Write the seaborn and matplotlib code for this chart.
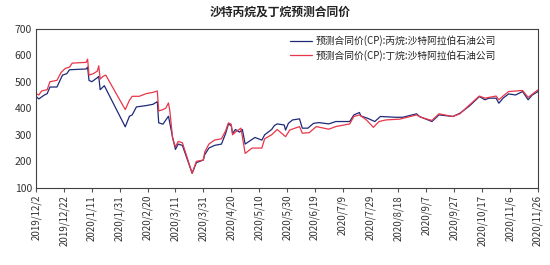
import matplotlib
matplotlib.use("Agg")
import matplotlib.pyplot as plt
import matplotlib.dates as mdates
import seaborn as sns
import pandas as pd

title = "沙特丙烷及丁烷预测合同价"
label_propane = "预测合同价(CP):丙烷:沙特阿拉伯石油公司"
label_butane = "预测合同价(CP):丁烷:沙特阿拉伯石油公司"

propane_dates = [
    "2019-12-02", "2019-12-04", "2019-12-08", "2019-12-10", "2019-12-12", "2019-12-17",
    "2019-12-21", "2019-12-24", "2019-12-26", "2020-01-07", "2020-01-08", "2020-01-09",
    "2020-01-11", "2020-01-15", "2020-01-16", "2020-01-17", "2020-01-20", "2020-02-04",
    "2020-02-07", "2020-02-09", "2020-02-12", "2020-02-19", "2020-02-24", "2020-02-27",
    "2020-02-28", "2020-03-02", "2020-03-04", "2020-03-06", "2020-03-09", "2020-03-11",
    "2020-03-13", "2020-03-16", "2020-03-23", "2020-03-26", "2020-03-31", "2020-04-01",
    "2020-04-04", "2020-04-08", "2020-04-13", "2020-04-16", "2020-04-18", "2020-04-20",
    "2020-04-21", "2020-04-23", "2020-04-26", "2020-04-28", "2020-04-30", "2020-05-07",
    "2020-05-12", "2020-05-14", "2020-05-19", "2020-05-21", "2020-05-23", "2020-05-28",
    "2020-05-29", "2020-05-31", "2020-06-03", "2020-06-08", "2020-06-10", "2020-06-14",
    "2020-06-18", "2020-06-22", "2020-06-29", "2020-07-04", "2020-07-14", "2020-07-17",
    "2020-07-21", "2020-07-22", "2020-07-27", "2020-08-01", "2020-08-05", "2020-08-16",
    "2020-08-21", "2020-08-31", "2020-09-02", "2020-09-11", "2020-09-16", "2020-09-26",
    "2020-10-01", "2020-10-08", "2020-10-15", "2020-10-19", "2020-10-22", "2020-10-27",
    "2020-10-29", "2020-11-01", "2020-11-05", "2020-11-10", "2020-11-15", "2020-11-19",
    "2020-11-22", "2020-11-26",
]
propane_values = [
    445, 435, 450, 455, 480, 480,
    525, 530, 545, 548, 555, 505,
    500, 515, 520, 470, 485, 330,
    370, 375, 405, 410, 415, 425,
    345, 340, 355, 370, 290, 245,
    265, 260, 155, 195, 205, 225,
    250, 260, 265, 305, 340, 335,
    305, 320, 310, 320, 265, 290,
    280, 300, 320, 335, 341, 337,
    318, 343, 356, 360, 325, 325,
    343, 346, 341, 350, 350, 375,
    384, 371, 362, 350, 369, 366,
    366, 379, 369, 350, 375, 369,
    381, 409, 444, 432, 438, 438,
    419, 438, 454, 450, 463, 432,
    450, 463,
]

butane_dates = [
    "2019-12-02", "2019-12-04", "2019-12-06", "2019-12-10", "2019-12-12", "2019-12-17",
    "2019-12-20", "2019-12-23", "2019-12-26", "2019-12-28", "2020-01-07", "2020-01-08",
    "2020-01-09", "2020-01-12", "2020-01-15", "2020-01-16", "2020-01-17", "2020-01-19",
    "2020-01-21", "2020-02-04", "2020-02-07", "2020-02-09", "2020-02-14", "2020-02-19",
    "2020-02-24", "2020-02-27", "2020-02-28", "2020-03-02", "2020-03-04", "2020-03-06",
    "2020-03-07", "2020-03-09", "2020-03-11", "2020-03-13", "2020-03-16", "2020-03-23",
    "2020-03-26", "2020-03-31", "2020-04-01", "2020-04-04", "2020-04-08", "2020-04-13",
    "2020-04-16", "2020-04-18", "2020-04-20", "2020-04-21", "2020-04-23", "2020-04-27",
    "2020-04-30", "2020-05-05", "2020-05-12", "2020-05-14", "2020-05-19", "2020-05-23",
    "2020-05-29", "2020-06-01", "2020-06-08", "2020-06-10", "2020-06-15", "2020-06-20",
    "2020-06-29", "2020-07-04", "2020-07-14", "2020-07-17", "2020-07-21", "2020-07-26",
    "2020-07-31", "2020-08-04", "2020-08-09", "2020-08-19", "2020-08-31", "2020-09-03",
    "2020-09-11", "2020-09-16", "2020-09-26", "2020-10-01", "2020-10-08", "2020-10-15",
    "2020-10-19", "2020-10-27", "2020-10-29", "2020-11-01", "2020-11-05", "2020-11-15",
    "2020-11-19", "2020-11-26",
]
butane_values = [
    455, 450, 465, 470, 500, 505,
    535, 550, 555, 570, 573, 585,
    525, 530, 540, 560, 510, 520,
    525, 395, 430, 445, 445, 455,
    460, 465, 390, 395, 400, 420,
    390, 285, 255, 275, 270, 155,
    200, 205, 235, 265, 280, 285,
    315, 345, 340, 300, 310, 325,
    230, 250, 250, 285, 300, 320,
    293, 318, 331, 306, 308, 331,
    321, 331, 341, 369, 375, 356,
    328, 350, 356, 359, 375, 366,
    354, 379, 369, 379, 413, 446,
    438, 446, 432, 446, 463, 467,
    441, 469,
]

y_ticks = [100, 200, 300, 400, 500, 600, 700]
x_tick_dates = pd.date_range("2019-12-02", "2020-11-26", freq="20D")

df = pd.concat([
    pd.DataFrame({"date": pd.to_datetime(propane_dates), "value": propane_values, "series": label_propane}),
    pd.DataFrame({"date": pd.to_datetime(butane_dates), "value": butane_values, "series": label_butane}),
])

sns.set_theme(style="white")
plt.rcParams["font.family"] = ["Noto Sans CJK SC", "DejaVu Sans"]

fig = plt.figure(figsize=(5.5, 2.65), dpi=100)
ax = fig.add_axes([0.0655, 0.291, 0.9125, 0.601])

sns.lineplot(data=df, x="date", y="value", hue="series", ax=ax,
             palette={label_propane: "#1f2a78", label_butane: "#e8364b"},
             linewidth=0.9, estimator=None, sort=True)

ax.set_xlim(pd.Timestamp("2019-12-02"), pd.Timestamp("2020-11-26"))
ax.set_ylim(100, 700)
ax.set_yticks(y_ticks)
ax.set_xticks(x_tick_dates)
ax.set_xticklabels([f"{d.year}/{d.month}/{d.day}" for d in x_tick_dates],
                   rotation=90, fontsize=7, color="#333333")
ax.tick_params(axis="y", labelsize=7.5, colors="#333333", length=0, pad=3)
ax.tick_params(axis="x", length=3, width=0.8, color="#555555", pad=2, bottom=True)
ax.set_xlabel("")
ax.set_ylabel("")
for s in ax.spines.values():
    s.set_color("#404040")
    s.set_linewidth(0.8)

leg = ax.legend(loc="upper right", bbox_to_anchor=(0.93, 1.0), frameon=False,
                fontsize=7, handlelength=2.2, handletextpad=0.4, labelspacing=0.35,
                borderaxespad=0.3)
for t in leg.get_texts():
    t.set_color("#222222")

fig.text(0.51, 0.955, title, ha="center", va="center", fontsize=8.5, fontweight="bold", color="#222222")

fig.savefig("out.png", dpi=100)
